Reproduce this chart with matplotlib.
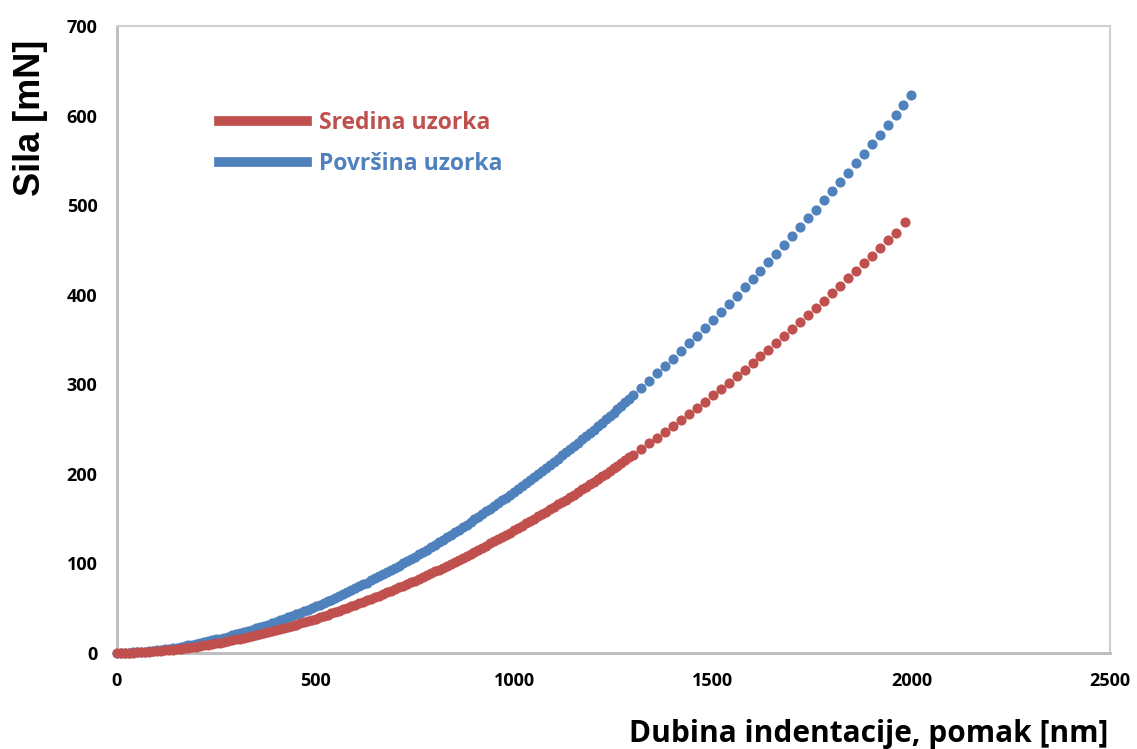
import matplotlib.pyplot as plt
from matplotlib.lines import Line2D

# Depth [nm] and force [mN]
depth_povrsina = [
    0, 10, 20, 30, 40, 50, 60, 70, 80, 90,
    100, 110, 120, 130, 140, 150, 160, 170, 180, 190,
    200, 210, 220, 230, 240, 250, 260, 270, 280, 290,
    300, 310, 320, 330, 340, 350, 360, 370, 380, 390,
    400, 410, 420, 430, 440, 450, 460, 470, 480, 490,
    500, 510, 520, 530, 540, 550, 560, 570, 580, 590,
    600, 610, 620, 630, 640, 650, 660, 670, 680, 690,
    700, 710, 720, 730, 740, 750, 760, 770, 780, 790,
    800, 810, 820, 830, 840, 850, 860, 870, 880, 890,
    900, 910, 920, 930, 940, 950, 960, 970, 980, 990,
    1000, 1010, 1020, 1030, 1040, 1050, 1060, 1070, 1080, 1090,
    1100, 1110, 1120, 1130, 1140, 1150, 1160, 1170, 1180, 1190,
    1200, 1210, 1220, 1230, 1240, 1250, 1260, 1270, 1280, 1290,
    1300, 1320, 1340, 1360, 1380,
    1400, 1420, 1440, 1460, 1480,
    1500, 1520, 1540, 1560, 1580, 1600, 1620, 1640, 1660, 1680,
    1700, 1720, 1740, 1760, 1780, 1800, 1820, 1840, 1860, 1880,
    1900, 1920, 1940, 1960, 1980, 2000,
]
sila_povrsina = [
    0.0, 0.1, 0.2, 0.3, 0.6, 0.8, 1.2, 1.5, 2.0, 2.4,
    2.9, 3.5, 4.1, 4.7, 5.3, 6.0, 6.8, 7.6, 8.4, 9.2,
    10.1, 11.0, 12.0, 13.0, 14.0, 15.1, 16.1, 17.3, 18.4, 19.6,
    20.9, 22.1, 23.4, 24.7, 26.1, 27.5, 28.9, 30.4, 31.8, 33.4,
    34.9, 36.5, 38.1, 39.7, 41.4, 43.1, 44.8, 46.6, 48.4, 50.2,
    52.1, 53.9, 55.8, 57.8, 59.7, 61.7, 63.8, 65.8, 67.9, 70.0,
    72.1, 74.3, 76.5, 78.7, 81.0, 83.3, 85.6, 87.9, 90.2, 92.6,
    95.1, 97.5, 100.0, 102.5, 105.0, 107.6, 110.1, 112.7, 115.4, 118.0,
    120.7, 123.4, 126.2, 129.0, 131.7, 134.6, 137.4, 140.3, 143.2, 146.1,
    149.1, 152.0, 155.0, 158.1, 161.1, 164.2, 167.3, 170.4, 173.6, 176.8,
    180.0, 183.2, 186.5, 189.8, 193.1, 196.4, 199.8, 203.2, 206.6, 210.0,
    213.5, 217.0, 220.5, 224.0, 227.6, 231.2, 234.8, 238.4, 242.1, 245.8,
    249.5, 253.2, 257.0, 260.7, 264.6, 268.4, 272.2, 276.1, 280.0, 283.9,
    287.9, 295.9, 304.0, 312.1, 320.4,
    328.7, 337.2, 345.7, 354.4, 363.1,
    371.9, 380.8, 389.9, 399.0, 408.2, 417.5, 426.9, 436.4, 445.9, 455.6,
    465.3, 475.2, 485.2, 495.1, 505.3, 515.4, 525.8, 536.2, 546.7, 557.2,
    567.9, 578.6, 589.4, 600.3, 611.3, 623.0,
]

depth_sredina = [
    0, 10, 20, 30, 40, 50, 60, 70, 80, 90,
    100, 110, 120, 130, 140, 150, 160, 170, 180, 190,
    200, 210, 220, 230, 240, 250, 260, 270, 280, 290,
    300, 310, 320, 330, 340, 350, 360, 370, 380, 390,
    400, 410, 420, 430, 440, 450, 460, 470, 480, 490,
    500, 510, 520, 530, 540, 550, 560, 570, 580, 590,
    600, 610, 620, 630, 640, 650, 660, 670, 680, 690,
    700, 710, 720, 730, 740, 750, 760, 770, 780, 790,
    800, 810, 820, 830, 840, 850, 860, 870, 880, 890,
    900, 910, 920, 930, 940, 950, 960, 970, 980, 990,
    1000, 1010, 1020, 1030, 1040, 1050, 1060, 1070, 1080, 1090,
    1100, 1110, 1120, 1130, 1140, 1150, 1160, 1170, 1180, 1190,
    1200, 1210, 1220, 1230, 1240, 1250, 1260, 1270, 1280, 1290,
    1300, 1320, 1340, 1360, 1380,
    1400, 1420, 1440, 1460, 1480,
    1500, 1520, 1540, 1560, 1580, 1600, 1620, 1640, 1660, 1680,
    1700, 1720, 1740, 1760, 1780, 1800, 1820, 1840, 1860, 1880,
    1900, 1920, 1940, 1960, 1985,
]
sila_sredina = [
    0.0, 0.0, 0.1, 0.2, 0.4, 0.6, 0.8, 1.1, 1.4, 1.7,
    2.0, 2.4, 2.8, 3.3, 3.8, 4.3, 4.8, 5.4, 5.9, 6.6,
    7.2, 7.9, 8.6, 9.3, 10.1, 10.8, 11.6, 12.5, 13.3, 14.2,
    15.1, 16.1, 17.0, 18.0, 19.0, 20.1, 21.1, 22.2, 23.3, 24.5,
    25.6, 26.8, 28.0, 29.2, 30.5, 31.8, 33.1, 34.4, 35.8, 37.1,
    38.5, 40.0, 41.4, 42.9, 44.4, 45.9, 47.4, 49.0, 50.6, 52.2,
    53.8, 55.4, 57.1, 58.8, 60.5, 62.3, 64.0, 65.8, 67.6, 69.5,
    71.3, 73.2, 75.1, 77.0, 79.0, 80.9, 82.9, 84.9, 86.9, 89.0,
    91.1, 93.2, 95.3, 97.4, 99.6, 101.8, 104.0, 106.2, 108.4, 110.7,
    113.0, 115.3, 117.6, 120.0, 122.3, 124.7, 127.1, 129.6, 132.0, 134.5,
    137.0, 139.5, 142.1, 144.6, 147.2, 149.8, 152.4, 155.1, 157.7, 160.4,
    163.1, 165.8, 168.6, 171.3, 174.1, 176.9, 179.8, 182.6, 185.5, 188.4,
    191.3, 194.2, 197.2, 200.1, 203.1, 206.1, 209.1, 212.2, 215.2, 218.3,
    221.4, 227.7, 234.1, 240.5, 247.0,
    253.6, 260.3, 267.0, 273.8, 280.7,
    287.7, 294.8, 301.9, 309.1, 316.4, 323.8, 331.2, 338.8, 346.3, 354.0,
    361.7, 369.6, 377.5, 385.5, 393.5, 401.7, 409.9, 418.2, 426.5, 435.0,
    443.5, 452.0, 460.7, 469.4, 481.0,
]

x_ticks = [0, 500, 1000, 1500, 2000, 2500]
y_ticks = [0, 100, 200, 300, 400, 500, 600, 700]

RED = '#C0504D'
BLUE = '#4F81BD'

fig = plt.figure(figsize=(11.37, 7.49), dpi=100)
ax = fig.add_axes([117 / 1137, 1 - 653 / 749, (1110 - 117) / 1137, (653 - 26) / 749])

ax.plot(depth_sredina, sila_sredina, 'o', color=RED, markersize=7.3,
        markeredgewidth=0, clip_on=False, zorder=3)
ax.plot(depth_povrsina, sila_povrsina, 'o', color=BLUE, markersize=7.3,
        markeredgewidth=0, clip_on=False, zorder=2)

ax.set_xlim(0, 2500)
ax.set_ylim(0, 700)
ax.set_xticks(x_ticks)
ax.set_yticks(y_ticks)
ax.tick_params(length=0, pad=14)
for lab in ax.get_xticklabels() + ax.get_yticklabels():
    lab.set_fontfamily('Open Sans')
    lab.set_fontweight('bold')
    lab.set_fontsize(13)

for side in ['top', 'right']:
    ax.spines[side].set_color('#D0D0D0')
    ax.spines[side].set_linewidth(1.5)
for side in ['left', 'bottom']:
    ax.spines[side].set_color('#BFBFBF')
    ax.spines[side].set_linewidth(2.2)

handles = [Line2D([], [], color=RED, linewidth=7),
           Line2D([], [], color=BLUE, linewidth=7)]
leg = ax.legend(handles, ['Sredina uzorka', 'Površina uzorka'],
                loc='upper left', bbox_to_anchor=(0.082, 0.898),
                frameon=False, handlelength=3.83, handletextpad=0.52,
                labelspacing=0.77, prop={'family': 'Open Sans',
                                         'weight': 'bold', 'size': 16.5})
for txt, c in zip(leg.get_texts(), [RED, BLUE]):
    txt.set_color(c)

fig.text(30 / 1137, 1 - 118 / 749, 'Sila [mN]', rotation=90,
         ha='center', va='center', fontsize=26, fontweight='bold',
         family='Liberation Sans')
fig.text(1108 / 1137, 1 - 742 / 749, 'Dubina indentacije, pomak [nm]',
         ha='right', va='baseline', fontsize=21.5, fontweight='bold',
         family='Open Sans')

fig.savefig('out.png', dpi=100)
